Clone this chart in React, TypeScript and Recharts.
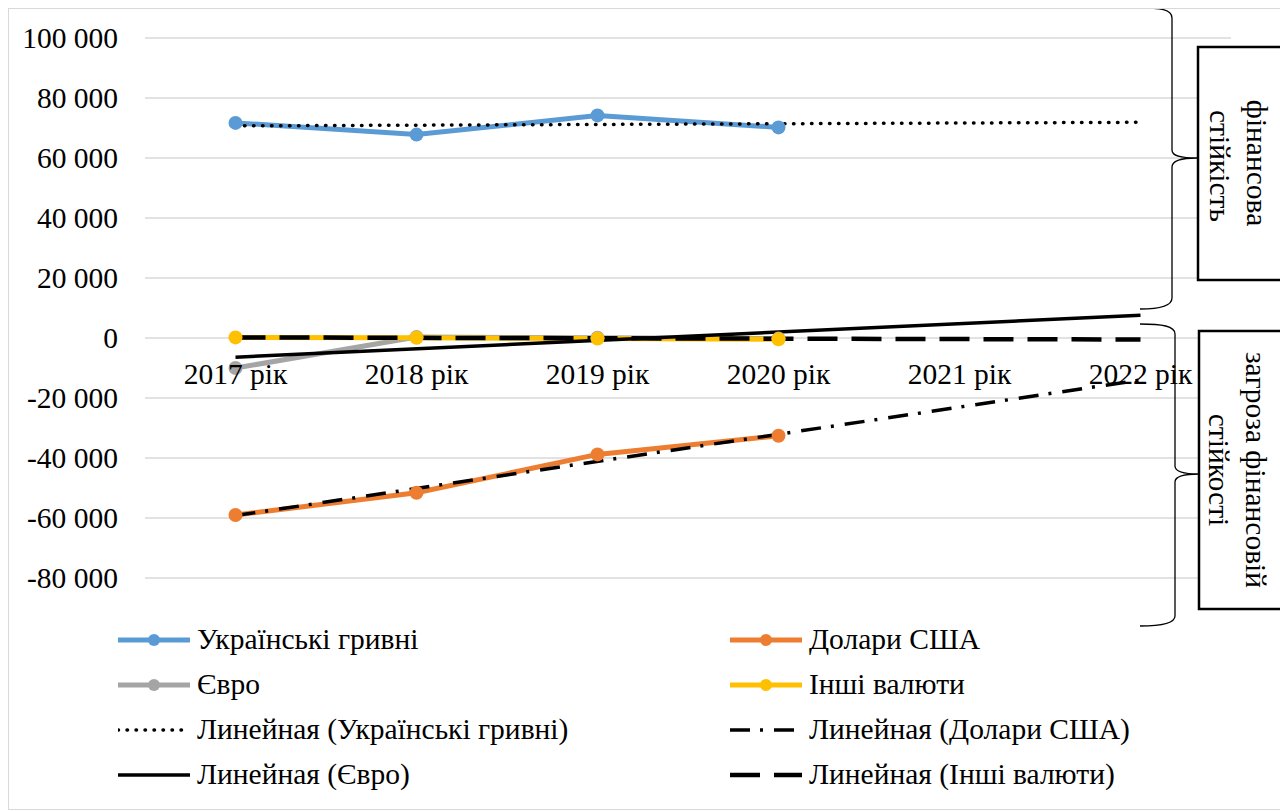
import { LineChart, Line, XAxis, YAxis, CartesianGrid, Legend, ReferenceDot } from 'recharts'

const years = ['2017 рік', '2018 рік', '2019 рік', '2020 рік', '2021 рік', '2022 рік']

// actual values (no data for 2021-2022)
const uah = [71700, 67800, 74200, 70200, null, null]
const usd = [-59000, -51600, -38800, -32600, null, null]
const eur = [-10000, 300, 100, -200, null, null]
const other = [200, 100, -200, -400, null, null]

// linear trend lines, read at start and end only
const uahTrend = [70700, null, null, null, null, 71900]
const usdTrend = [-59200, null, null, null, null, -14000]
const eurTrend = [-6400, null, null, null, null, 7600]
const otherTrend = [200, null, null, null, null, -500]

const yTicks = [-80000, -60000, -40000, -20000, 0, 20000, 40000, 60000, 80000, 100000]

const FONT = 'Liberation Serif, serif'
const FS = 29.5

const data = years.map((year, i) => ({
    year,
    uah: uah[i],
    usd: usd[i],
    eur: eur[i],
    other: other[i],
    uahTrend: uahTrend[i],
    usdTrend: usdTrend[i],
    eurTrend: eurTrend[i],
    otherTrend: otherTrend[i],
}))

const SERIES = [
    { key: 'uah', name: 'Українські гривні', color: '#5B9BD5' },
    { key: 'usd', name: 'Долари США', color: '#ED7D31' },
    { key: 'eur', name: 'Євро', color: '#A5A5A5' },
    { key: 'other', name: 'Інші валюти', color: '#FFC000' },
]

const TRENDS = [
    { key: 'uahTrend', name: 'Линейная (Українські гривні)', dash: '0.5 8.5', width: 3.5, cap: 'round' },
    { key: 'usdTrend', name: 'Линейная (Долари США)', dash: '20 10 3 11', width: 3.5, cap: 'butt' },
    { key: 'eurTrend', name: 'Линейная (Євро)', dash: undefined, width: 3.5, cap: 'butt' },
    { key: 'otherTrend', name: 'Линейная (Інші валюти)', dash: '30 14', width: 4.5, cap: 'butt' },
]

const fmt = (v: number) => {
    const s = Math.abs(v).toString().replace(/\B(?=(\d{3})+(?!\d))/g, ' ')
    return v < 0 ? '-' + s : s
}

const renderLegend = () => {
    const items = [
        ...SERIES.map(s => ({ name: s.name, kind: 'data', color: s.color, dash: undefined as any, width: 5, cap: 'butt' })),
        ...TRENDS.map(t => ({ name: t.name, kind: 'trend', color: '#000', dash: t.dash, width: t.width, cap: t.cap })),
    ]
    return (
        <div style={{ display: 'grid', gridTemplateColumns: '612px 1fr', paddingLeft: 109, fontFamily: FONT }}>
            {items.map(it => (
                <div key={it.name} style={{ display: 'flex', alignItems: 'center', height: 45 }}>
                    <svg width={72} height={20} style={{ marginRight: 7 }}>
                        <line x1={0} y1={10} x2={72} y2={10} stroke={it.color} strokeWidth={it.width}
                            strokeDasharray={it.dash} strokeLinecap={it.cap as any} />
                        {it.kind === 'data' && <circle cx={36} cy={10} r={6} fill={it.color} />}
                    </svg>
                    <span style={{ fontSize: FS, color: '#000', whiteSpace: 'nowrap', fontFamily: FONT }}>{it.name}</span>
                </div>
            ))}
        </div>
    )
}

export default function App() {
    return (
        <div style={{ width: 1280, height: 802, border: '1px solid #d9d9d9', boxSizing: 'border-box', position: 'relative', overflow: 'hidden', fontFamily: FONT, background: '#fff' }}>
            <LineChart width={1278} height={800} data={data} margin={{ top: 29, right: 56, left: 0, bottom: 231 }} style={{ fontFamily: FONT }}>
                <CartesianGrid vertical={false} stroke="#d9d9d9" strokeWidth={1.5} />
                <XAxis dataKey="year" scale="band" hide />
                <YAxis
                    domain={[-80000, 100000]}
                    ticks={yTicks}
                    tickFormatter={fmt}
                    width={136}
                    axisLine={false}
                    tickLine={false}
                    tickMargin={21}
                    tick={{ fontSize: FS, fill: '#000', fontFamily: FONT }}
                    interval={0}
                />
                {SERIES.map(s => (
                    <Line
                        key={s.key}
                        dataKey={s.key}
                        name={s.name}
                        stroke={s.color}
                        strokeWidth={5}
                        dot={{ r: 7, fill: s.color, stroke: s.color, strokeWidth: 0 }}
                        isAnimationActive={false}
                    />
                ))}
                {TRENDS.map(t => (
                    <Line
                        key={t.key}
                        dataKey={t.key}
                        name={t.name}
                        stroke="#000"
                        strokeWidth={t.width}
                        strokeDasharray={t.dash}
                        strokeLinecap={t.cap as any}
                        dot={false}
                        connectNulls
                        isAnimationActive={false}
                    />
                ))}
                {/* category labels sit on the zero line, like Excel's crossing axis */}
                {years.map(y => (
                    <ReferenceDot
                        key={y}
                        x={y}
                        y={0}
                        r={0}
                        fill="none"
                        stroke="none"
                        label={{ value: y, position: 'bottom', offset: 25, fontSize: FS, fill: '#000', fontFamily: FONT }}
                    />
                ))}
                <Legend
                    content={renderLegend}
                    verticalAlign="middle"
                    align="center"
                    wrapperStyle={{ top: 608, left: 0, width: 1278 }}
                />
            </LineChart>
            <svg width={1278} height={800} style={{ position: 'absolute', left: 0, top: 0, overflow: 'visible' }}>
                <g transform="translate(-9 -9)" fill="none" stroke="#000" strokeWidth={1.3}>
                    <path d="M1140 8 C1160 8 1172 9 1172 18 L1172 150 C1172 156 1180 158 1197 158 C1180 158 1172 161 1172 167 L1172 298 C1172 306 1160 309 1140 309" />
                    <path d="M1140 324 C1162 324 1175 326 1175 334 L1175 466 C1175 471 1183 474 1199 474 C1183 474 1175 477 1175 482 L1175 616 C1175 623 1162 626 1140 626" />
                    <rect x={1198} y={47} width={120} height={233} fill="#fff" strokeWidth={2.5} />
                    <rect x={1199} y={331} width={120} height={278} fill="#fff" strokeWidth={2.5} />
                </g>
                <g transform="translate(-9 -9)" fontSize={FS} fill="#000" style={{ fontFamily: FONT }} textAnchor="middle" dominantBaseline="central">
                    <text x={1257} y={163} transform="rotate(90 1257 163)">фінансова</text>
                    <text x={1220} y={166} transform="rotate(90 1220 166)">стійкість</text>
                    <text x={1256} y={470} transform="rotate(90 1256 470)">загроза фінансовій</text>
                    <text x={1219} y={470} transform="rotate(90 1219 470)">стійкості</text>
                </g>
            </svg>
        </div>
    )
}
